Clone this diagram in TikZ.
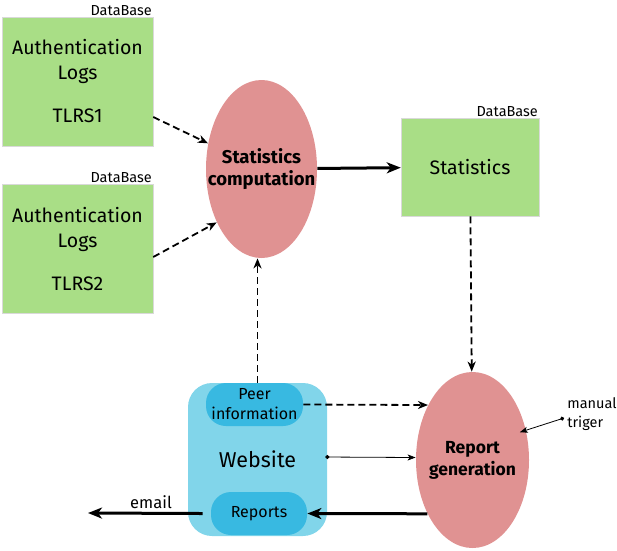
\documentclass[tikz,border=0pt]{standalone}
\usepackage{fontspec}
\setmainfont{Fira Sans}
\usetikzlibrary{arrows.meta,shapes.geometric,positioning,calc}
\tikzset{every picture/.style={line width=0.75pt}}
\definecolor{dbgreen}{RGB}{169,222,134}
\definecolor{procred}{RGB}{224,146,146}
\definecolor{weblight}{RGB}{129,213,234}
\definecolor{webdark}{RGB}{56,185,225}
\tikzset{
  dbbox/.style={fill=dbgreen, draw=black!15, line width=0.5pt, minimum width=151pt, minimum height=129pt, inner sep=0pt, align=center, font=\fontsize{19.5}{25}\selectfont},
  dblabel/.style={anchor=south east, inner sep=1pt, font=\fontsize{14.5}{16}\selectfont},
  proc/.style={ellipse, fill=procred, inner sep=-20pt, align=center, font=\bfseries\fontsize{18.5}{22}\selectfont},
  pill/.style={fill=webdark, rounded corners=20pt, minimum width=97pt, minimum height=43pt, inner sep=0pt, align=center, font=\fontsize{16}{20}\selectfont},
  dasharrow/.style={dash pattern=on 7pt off 4pt, line width=1.8pt, -{Stealth[length=10pt,width=8pt,inset=3pt]}},
  thickarrow/.style={line width=3pt, -{Stealth[length=14pt,width=11pt,inset=4pt]}},
  dotarrow/.style={line width=0.8pt, {Circle[length=4pt]}-{Stealth[length=8pt,width=6pt,inset=2pt]}},
}

\begin{document}
\begin{tikzpicture}[x=1pt,y=-1pt]
    \useasboundingbox (0,0) rectangle (617,550);

    % 数据库
    \node[dbbox] (log1) at (77.5,81.5) {Authentication\\Logs\\[18pt]TLRS1};
    \node[dblabel] (db1) at (log1.north east) {DataBase};
    \node[dbbox] (log2) at (77.5,249) {Authentication\\Logs\\[18pt]TLRS2};
    \node[dblabel] (db2) at (log2.north east) {DataBase};
    \node[dbbox, minimum width=138pt, minimum height=98pt] (stats) at (470,167) {Statistics};
    \node[dblabel] (db3) at (stats.north east) {DataBase};

    % 处理
    \node[proc, minimum width=111pt, minimum height=178pt] (comp) at (261.5,169) {Statistics\\computation};
    \node[proc, minimum width=113pt, minimum height=176pt, font=\bfseries\fontsize{17.5}{22}\selectfont] (rep) at (472.5,460) {Report\\generation};

    % 网站
    \node[fill=weblight, rounded corners=24pt, minimum width=139pt, minimum height=153pt, font=\fontsize{21.5}{24}\selectfont] (web) at (257.5,459.5) {Website};
    \node[pill] (peer) at (254.5,404.5) {Peer\\information};
    \node[pill, minimum width=96pt] (reports) at (259,513.5) {Reports};

    % 连线
    \draw[dasharrow] ([yshift=-35.5pt]log1.east) -- (comp);
    \draw[dasharrow] ([yshift=-8pt]log2.east) -- (comp.230);
    \draw[thickarrow] (comp) -- (stats);
    \draw[dasharrow] (stats) -- (rep);
    \draw[dasharrow] (web.north) -- (web.north |- comp.south);
    \draw[dasharrow] (peer.east) -- (rep.129);
    \draw[dotarrow] ([xshift=-2pt,yshift=2.5pt]web.east) -- ([yshift=2.5pt]rep.west);
    \draw[thickarrow] (rep.230) -- (reports.east);

    % 邮件
    \coordinate (mailout) at (88,513);
    \draw[thickarrow] ([xshift=-8pt]reports.west) -- node[above, pos=0.45, font=\fontsize{16.5}{18}\selectfont] (mail) {email} (mailout);

    % 手动触发
    \node[align=left, anchor=west, inner sep=0pt, font=\fontsize{14.5}{19}\selectfont] (trig) at (567,414) {manual\\triger};
    \draw[dotarrow] ([xshift=-3pt,yshift=-4pt]trig.west) -- ([shift={(-6pt,-3pt)}]rep.30);
\end{tikzpicture}
\end{document}
